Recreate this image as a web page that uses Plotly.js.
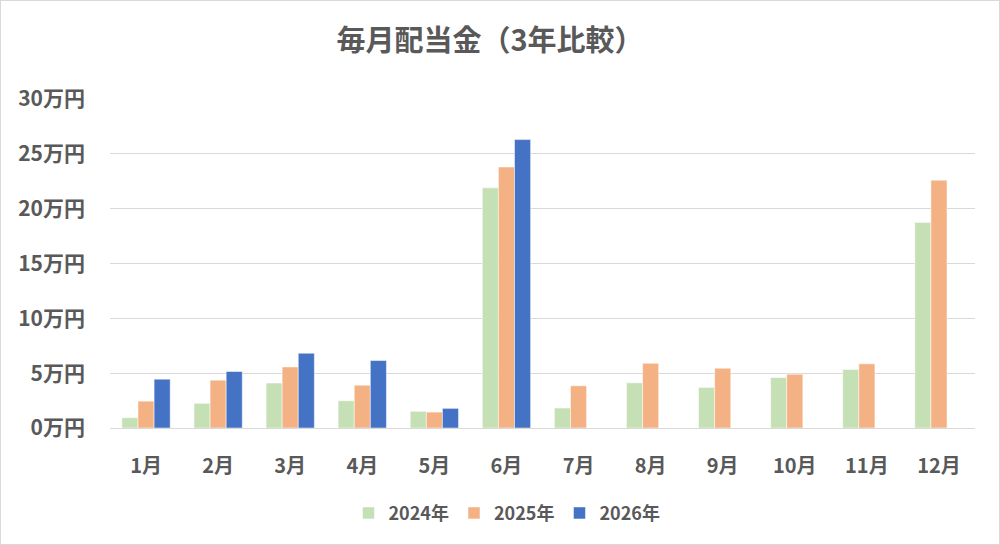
<!DOCTYPE html>
<html>
<head>
<meta charset="utf-8">
<script src="https://cdn.plot.ly/plotly-3.0.1.min.js"></script>
<style>
  html, body { margin: 0; padding: 0; background: #fff; }
  #myDiv { width: 998px; height: 543px; border: 1px solid #d9d9d9; }
</style>
</head>
<body>
<div id="myDiv"></div>
<script>
// monthly dividends, unit: 万円
var months = ['1月', '2月', '3月', '4月', '5月', '6月', '7月', '8月', '9月', '10月', '11月', '12月'];
var div2024 = [0.94, 2.25, 4.1, 2.48, 1.52, 21.9, 1.82, 4.12, 3.7, 4.6, 5.33, 18.75];
var div2025 = [2.45, 4.36, 5.57, 3.9, 1.45, 23.8, 3.85, 5.9, 5.45, 4.9, 5.85, 22.6];
var div2026 = [4.45, 5.15, 6.82, 6.15, 1.79, 26.3, null, null, null, null, null, null];
var seriesNames = ['2024年', '2025年', '2026年'];

var fontFamily = '"Noto Sans CJK JP", "Noto Sans", sans-serif';
var textColor = '#595959';

var colors = ['#C5E0B4', '#F4B183', '#4472C4'];
var values = [div2024, div2025, div2026];

var data = [];
for (let i = 0; i < values.length; i++) {
    data.push({
        type: 'bar',
        x: months,
        y: values[i],
        name: seriesNames[i],
        marker: { color: colors[i], line: { color: '#ffffff', width: 0.5 } },
        hoverinfo: 'x+y+name'
    });
}

var layout = {
    width: 998,
    height: 543,
    margin: { l: 109, r: 24, t: 98, b: 113 },
    paper_bgcolor: '#ffffff',
    plot_bgcolor: '#ffffff',
    barmode: 'group',
    bargap: 0.33,
    bargroupgap: 0,
    title: {
        text: '毎月配当金（3年比較）',
        font: { family: fontFamily, size: 29, color: textColor, weight: 'bold' },
        x: 0.49,
        xanchor: 'center',
        y: 1 - 40 / 543,
        yref: 'container',
        yanchor: 'middle'
    },
    xaxis: {
        type: 'category',
        showgrid: false,
        showline: false,
        ticks: '',
        ticklabelstandoff: 24,
        tickfont: { family: fontFamily, size: 20, color: textColor, weight: 'bold' }
    },
    yaxis: {
        range: [0, 30],
        dtick: 5,
        tick0: 0,
        ticksuffix: '万円',
        showgrid: true,
        gridcolor: '#d9d9d9',
        gridwidth: 1,
        zeroline: true,
        zerolinecolor: '#d9d9d9',
        zerolinewidth: 1,
        ticks: '',
        ticklabelstandoff: 24,
        tickfont: { family: fontFamily, size: 21, color: textColor, weight: 'bold' }
    },
    legend: {
        orientation: 'h',
        x: (506 - 109) / 865,
        xanchor: 'center',
        y: (430 - 516) / 332,
        yanchor: 'middle',
        font: { family: fontFamily, size: 18, color: textColor, weight: 'bold' },
        itemwidth: 30,
        traceorder: 'normal'
    },
    showlegend: true
};

Plotly.newPlot('myDiv', data, layout, { displayModeBar: false, staticPlot: false });
</script>
</body>
</html>
